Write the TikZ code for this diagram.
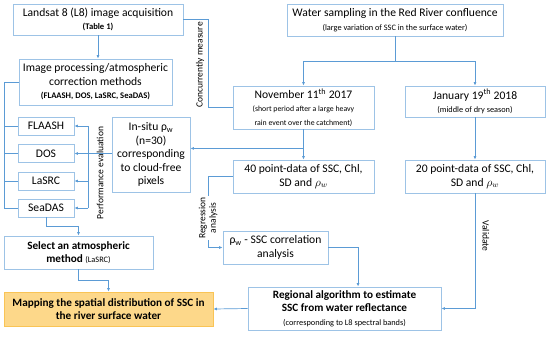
\documentclass[tikz,border=0pt]{standalone}
\usepackage{fontspec}
\setmainfont{Carlito}
\usepackage{xcolor}
\usepackage{tikz}
\usetikzlibrary{arrows.meta,positioning,calc}
\definecolor{boxblue}{RGB}{157, 195, 230}
\definecolor{lineblue}{RGB}{91, 155, 213}
\definecolor{mapfill}{RGB}{253, 216, 138}
\definecolor{mapdraw}{RGB}{249, 196, 86}

\tikzset{
  box/.style={draw=boxblue, line width=0.8pt, align=center, inner sep=1pt,
    font=\fontsize{11.6}{13.5}\selectfont},
  boldbox/.style={box, font=\fontsize{11.2}{13.5}\selectfont\bfseries},
  conn/.style={draw=lineblue, line width=0.7pt},
  sidelabel/.style={font=\fontsize{9.5}{10.5}\selectfont, align=center, inner sep=1pt}
}
\newcommand{\subtxt}[1]{{\fontsize{8.3}{10}\selectfont #1}}
\newcommand{\subnov}[1]{{\fontsize{7.8}{10}\selectfont #1}}
\newcommand{\subbold}[1]{{\fontsize{8.6}{10}\selectfont\bfseries #1}}

\begin{document}
\begin{tikzpicture}[x=1pt, y=-1pt, >={Latex[length=3.5pt,width=3pt]}]
        \useasboundingbox (0,0) rectangle (550,338);

        % Left column: image processing
        \node[box, minimum width=170pt, minimum height=31pt] (landsat) at (98, 19.5)
            {Landsat 8 (L8) image acquisition\\\subbold{(Table 1)}};
        \node[box, minimum width=153pt, minimum height=46pt] (improc) at (95.5, 82)
            {Image processing/atmospheric\\correction methods\\\subbold{(FLAASH, DOS, LaSRC, SeaDAS)}};
        \node[box, minimum width=56pt, minimum height=18pt] (flaash) at (46, 126) {FLAASH};
        \node[box, minimum width=56pt, minimum height=18pt] (dos) at (46, 153.5) {DOS};
        \node[box, minimum width=56pt, minimum height=18pt] (lasrc) at (46, 181) {LaSRC};
        \node[box, minimum width=56pt, minimum height=18pt] (seadas) at (46, 208) {SeaDAS};
        \node[box, minimum width=78pt, minimum height=75pt] (insitu) at (151, 154.5)
            {In-situ ρ\textsubscript{w}\\(n=30)\\corresponding\\to cloud-free\\pixels};
        \node[boldbox, minimum width=149pt, minimum height=33pt] (select) at (78.5, 252.5)
            {Select an atmospheric\\method \subtxt{\mdseries (LaSRC)}};
        \node[boldbox, draw=mapdraw, fill=mapfill, minimum width=209pt, minimum height=34pt] (mapping) at (108.5, 309)
            {Mapping the spatial distribution of SSC in\\the river surface water};

        % Right columns: field sampling
        \node[box, minimum width=216pt, minimum height=32pt] (water) at (395, 20)
            {Water sampling in the Red River confluence\\\subtxt{(large variation of SSC in the surface water)}};
        \node[box, minimum width=141pt, minimum height=43pt] (nov) at (303.5, 107.5)
            {November 11\textsuperscript{th} 2017\\\subnov{(short period after a large heavy}\\\subnov{rain event over the catchment)}};
        \node[box, minimum width=140pt, minimum height=31pt] (jan) at (475, 101.5)
            {January 19\textsuperscript{th} 2018\\\subtxt{(middle of dry season)}};
        \node[box, minimum width=141pt, minimum height=33pt] (p40) at (303.5, 176.5)
            {40 point-data of SSC, Chl,\\SD and $\rho_w$};
        \node[box, minimum width=140pt, minimum height=33pt] (p20) at (475, 176.5)
            {20 point-data of SSC, Chl,\\SD and $\rho_w$};
        \node[box, minimum width=105pt, minimum height=33pt] (corr) at (275.5, 247.5)
            {ρ\textsubscript{w} - SSC correlation\\analysis};
        \node[boldbox, minimum width=193pt, minimum height=43pt] (regional) at (344.5, 308.5)
            {Regional algorithm to estimate\\SSC from water reflectance\\\subtxt{\mdseries (corresponding to L8 spectral bands)}};

        % Helper coordinates
        \coordinate (lb) at (4, 0);
        \coordinate (rb) at (88, 0);
        \coordinate (cm) at (208, 0);
        \coordinate (rg) at (208, 0);
        \coordinate (wsplit) at (395, 61);
        \coordinate (nsplit) at ($(nov.south)+(0,19)$);
        \coordinate (rtop) at ($(regional.north west)!0.57!(regional.north east)$);

        % Connectors
        \draw[conn, ->] (landsat.south) -- (landsat.south |- improc.north);
        \draw[conn] (landsat.east) -| (cm |- nov.west) -- (nov.west);
        \node[sidelabel, rotate=90] (conlab) at (200, 65) {Concurrently measure};

        \draw[conn] (improc.west) -| (lb |- seadas.west) -- (seadas.west);
        \draw[conn] (lb |- flaash.west) -- (flaash.west);
        \draw[conn] (lb |- dos.west) -- (dos.west);
        \draw[conn] (lb |- lasrc.west) -- (lasrc.west);

        \draw[conn] (rb |- flaash.east) -- (rb |- seadas.east);
        \draw[conn] (insitu.west |- dos.east) -- (rb |- dos.east);
        \draw[conn, ->] (rb |- flaash.east) -- (flaash.east);
        \draw[conn, ->] (rb |- dos.east) -- (dos.east);
        \draw[conn, ->] (rb |- lasrc.east) -- (lasrc.east);
        \draw[conn, ->] (rb |- seadas.east) -- (seadas.east);
        \node[sidelabel, rotate=90] (perflab) at (100, 173) {Performance evaluation};

        \draw[conn] (water.south) -- (wsplit);
        \draw[conn, ->] (wsplit) -| (nov.north);
        \draw[conn, ->] (wsplit) -| (jan.north);

        \draw[conn, ->] (nov.south) -- (p40.north);
        \draw[conn, ->] (nsplit) -- (nsplit -| insitu.east);
        \draw[conn, ->] (jan.south) -- (p20.north);

        \draw[conn, ->] (p40.west) -| (rg |- corr.west) -- (corr.west);
        \node[sidelabel, rotate=90, fill=white] (reglab) at (208, 218) {Regression\\analysis};

        \draw[conn, ->] (corr.east) -| (rtop);
        \draw[conn, ->] (p20.south) |- (regional.east);
        \node[sidelabel, rotate=-90] (vallab) at (486, 236) {Validate};

        \draw[conn, ->] (regional.west) -- (mapping.east);
        \draw[conn, ->] (seadas.south) |- ($(seadas.south)!0.5!(select.north)$) -| (select.north);
        \draw[conn, ->] (select.south) |- ($(select.south)!0.5!(mapping.north)$) -| (mapping.north);
    \end{tikzpicture}
\end{document}
